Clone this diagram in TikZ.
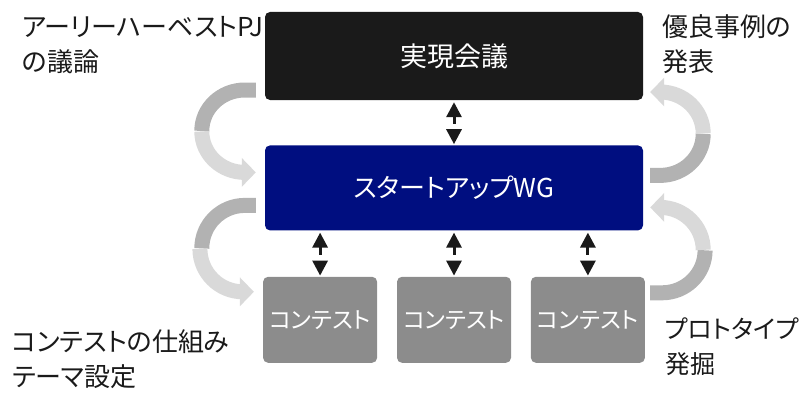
\documentclass[tikz,border=0pt]{standalone}
\usepackage{fontspec}
\setmainfont[RawFeature=+palt]{Noto Sans CJK JP}
\usetikzlibrary{arrows.meta, positioning, calc}
\definecolor{meetblack}{RGB}{26,26,26}
\definecolor{wgblue}{RGB}{0,14,128}
\definecolor{boxgray}{RGB}{140,140,140}
\definecolor{banddark}{RGB}{178,178,178}
\definecolor{bandlight}{RGB}{217,217,217}

\tikzset{
  box/.style={rectangle, rounded corners=5pt, text=white, inner sep=0pt},
  dbl/.style={draw=meetblack, line width=3pt,
              {Triangle[length=15pt,width=15pt]}-{Triangle[length=15pt,width=15pt]},
              dash pattern=on 8pt off 40pt, shorten <=2pt, shorten >=1pt},
  bandtail/.style={draw=banddark, line width=15pt},
  bandhead/.style={draw=bandlight, line width=15pt, -{Triangle[length=14pt,width=28pt]}},
  lbl/.style={align=left, inner sep=0pt, text=meetblack,
              font=\fontsize{26}{35}\selectfont},
}

\begin{document}
\begin{tikzpicture}[x=1pt, y=1pt]
    \useasboundingbox (0,0) rectangle (805,392);

    % boxes
    \node[box, fill=meetblack, minimum width=378pt, minimum height=88pt,
          font=\fontsize{27}{30}\selectfont](meet) at (454,336){実現会議};
    \node[box, fill=wgblue, minimum width=378pt, minimum height=85pt,
          font=\fontsize{26}{30}\selectfont, below=45pt of meet](wg){スタートアップWG};
    \node[box, fill=boxgray, minimum width=114pt, minimum height=86pt,
          font=\fontsize{23}{26}\selectfont, below=46pt of wg](c2){コンテスト};
    \node[box, fill=boxgray, minimum width=114pt, minimum height=86pt,
          font=\fontsize{23}{26}\selectfont, left=19.5pt of c2](c1){コンテスト};
    \node[box, fill=boxgray, minimum width=114pt, minimum height=86pt,
          font=\fontsize{23}{26}\selectfont, right=19.5pt of c2](c3){コンテスト};

    % double arrows
    \draw[dbl](meet.south) -- (wg.north);
    \draw[dbl](wg.south -| c1) -- (c1.north);
    \draw[dbl](wg.south -| c2) -- (c2.north);
    \draw[dbl](wg.south -| c3) -- (c3.north);

    % curved arrows, left side
    \coordinate (l1a) at ($(meet.west)+(-9,-34)$);
    \coordinate (l1b) at ($(wg.west)+(-9,15.5)$);
    \coordinate (l2a) at ($(wg.west)+(-9,-17.5)$);
    \coordinate (l2b) at ($(c1.west)+(-9,28)$);
    \draw[bandtail](l1a) -- ++(-11,0) arc[start angle=90, end angle=180, x radius=43, y radius=41];
    \draw[bandhead]($(l1b)+(-54,41)$) arc[start angle=180, end angle=270, x radius=43, y radius=41] -- (l1b);
    \draw[bandtail](l2a) -- ++(-11,0) arc[start angle=90, end angle=180, x radius=43, y radius=43];
    \draw[bandhead]($(l2b)+(-54,43)$) arc[start angle=180, end angle=270, x radius=43, y radius=43] -- (l2b);

    % curved arrows, right side
    \coordinate (r1a) at ($(wg.east)+(7,12.5)$);
    \coordinate (r1b) at ($(meet.east)+(7,-36)$);
    \coordinate (r2a) at ($(c3.east)+(5,27)$);
    \coordinate (r2b) at ($(wg.east)+(7,-19.5)$);
    \draw[bandtail](r1a) -- ++(10,0) arc[start angle=270, end angle=360, x radius=43, y radius=41.5];
    \draw[bandhead]($(r1b)+(53,-41.5)$) arc[start angle=0, end angle=90, x radius=43, y radius=41.5] -- (r1b);
    \draw[bandtail](r2a) -- ++(12,0) arc[start angle=270, end angle=360, x radius=43, y radius=42.5];
    \draw[bandhead]($(r2b)+(53,-42.5)$) arc[start angle=0, end angle=90, x radius=43, y radius=42.5] -- (r2b);

    % labels
    \node[lbl, anchor=north west](pj) at (22,376){アーリーハーベストPJ\\の議論};
    \node[lbl, anchor=north west](best) at (662,378){優良事例の\\発表};
    \node[lbl, anchor=north west](rule) at (12,63){コンテストの仕組み\\テーマ設定};
    \node[lbl, anchor=north west, font=\fontsize{25}{35}\selectfont](proto) at (665,74){プロトタイプ\\発掘};
\end{tikzpicture}
\end{document}
